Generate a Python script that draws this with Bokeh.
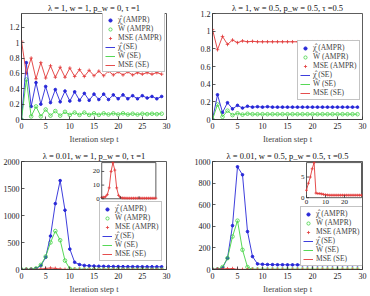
import math
from bokeh.plotting import figure
from bokeh.models import (Range1d, FixedTicker, CustomJSTickFormatter, Legend,
                          LegendItem, GridBox)
from bokeh.core.properties import value
from bokeh.embed import file_html
from bokeh.resources import INLINE

steps = list(range(30))
x_ticks = [0, 5, 10, 15, 20, 25, 30]
inset_x_ticks = [0, 10, 20]

# Panel (a): lambda=1, w=1, pw=0, tau=1
a_title = "λ = 1, w = 1, p_w = 0, τ =1"
a_chi = [0.00, 0.74, 0.17, 0.48, 0.20, 0.43, 0.22, 0.39, 0.23, 0.37, 0.24, 0.36, 0.25, 0.34, 0.25,
         0.33, 0.26, 0.33, 0.26, 0.32, 0.27, 0.32, 0.27, 0.31, 0.27, 0.31, 0.28, 0.30, 0.27, 0.30]
a_w = [0.00, 0.52, 0.04, 0.17, 0.04, 0.13, 0.05, 0.11, 0.05, 0.10, 0.06, 0.09, 0.06, 0.09, 0.06,
       0.08, 0.06, 0.08, 0.065, 0.08, 0.065, 0.08, 0.065, 0.075, 0.065, 0.075, 0.07, 0.075, 0.07, 0.075]
a_mse = [1.02, 0.60, 0.80, 0.53, 0.74, 0.54, 0.70, 0.55, 0.68, 0.55, 0.67, 0.56, 0.65, 0.56, 0.64,
         0.57, 0.63, 0.57, 0.63, 0.58, 0.62, 0.58, 0.62, 0.58, 0.61, 0.59, 0.61, 0.59, 0.61, 0.59]
a_yticks = [0, 0.2, 0.4, 0.6, 0.8, 1.0, 1.2]

# Panel (b): lambda=1, w=0.5, pw=0.5, tau=0.5
b_title = "λ = 1, w = 0.5, p_w = 0.5, τ =0.5"
b_chi = [0.00, 0.28, 0.08, 0.19, 0.12, 0.16, 0.13, 0.15, 0.14, 0.145, 0.14, 0.145, 0.14, 0.14, 0.14,
         0.14, 0.14, 0.14, 0.14, 0.14, 0.14, 0.14, 0.14, 0.14, 0.14, 0.14, 0.14, 0.14, 0.14, 0.14]
b_w = [0.00, 0.17, 0.03, 0.10, 0.05, 0.07, 0.055, 0.065, 0.06, 0.06, 0.06, 0.06, 0.06, 0.06, 0.06,
       0.06, 0.06, 0.06, 0.06, 0.06, 0.06, 0.06, 0.06, 0.06, 0.06, 0.06, 0.06, 0.06, 0.06, 0.06]
b_mse = [1.02, 0.79, 0.94, 0.85, 0.90, 0.87, 0.89, 0.88, 0.885, 0.88, 0.88, 0.88, 0.88, 0.88, 0.88,
         0.88, 0.88, 0.88, 0.88, 0.88, 0.88, 0.88, 0.88, 0.88, 0.88, 0.88, 0.88, 0.88, 0.88, 0.88]
b_yticks = [0, 0.2, 0.4, 0.6, 0.8, 1.0, 1.2]

# Panel (c): lambda=0.01, w=1, pw=0, tau=1
c_title = "λ = 0.01, w = 1, p_w = 0, τ =1"
c_chi = [0, 0, 2, 15, 70, 225, 620, 1220, 1646, 1098, 378, 134, 91, 75, 68,
         63, 60, 58, 56, 55, 54, 53, 52, 52, 51, 51, 50, 50, 50, 50]
c_w = [0, 0, 2, 20, 85, 240, 500, 713, 543, 165, 12, 0, 0, 0, 0,
       0, 0, 0, 0, 0, 0, 0, 0, 0, 0, 0, 0, 0, 0, 0]
c_mse = [1.0, 1.1, 1.5, 3.0, 8.0, 20.0, 26.5, 21.0, 8.0, 2.5, 1.0, 0.6, 0.5, 0.45, 0.4,
         0.4, 0.4, 0.4, 0.4, 0.4, 0.4, 0.4, 0.4, 0.4, 0.4, 0.4, 0.4, 0.4, 0.4, 0.4]
c_yticks = [0, 500, 1000, 1500, 2000]
c_inset_yticks = [0, 10, 20]

# Panel (d): lambda=0.01, w=0.5, pw=0.5, tau=0.5
d_title = "λ = 0.01, w = 0.5, p_w = 0.5, τ =0.5"
d_chi = [0, 3, 15, 105, 406, 951, 877, 351, 120, 52, 48, 46, 45, 44, 44,
         43, 43, 43, 43, 43, 43, 43, 43, 43, 43, 43, 43, 43, 43, 43]
d_w = [0, 1, 22, 105, 305, 452, 182, 22, 0, 0, 0, 0, 0, 0, 0,
       0, 0, 0, 0, 0, 0, 0, 0, 0, 0, 0, 0, 0, 0, 0]
d_mse = [1.8, 3.5, 5.0, 7.0, 8.5, 1.1, 1.0, 1.0, 0.9, 0.8, 0.7, 0.65, 0.6, 0.6, 0.6,
         0.6, 0.6, 0.6, 0.6, 0.6, 0.6, 0.6, 0.6, 0.6, 0.6, 0.6, 0.6, 0.6, 0.6, 0.6]
d_yticks = [0, 200, 400, 600, 800, 1000]
d_inset_yticks = [0, 5]

legend_labels = ["χ̂ (AMPR)", "Ŵ (AMPR)", "MSE (AMPR)", "χ̂ (SE)", "Ŵ (SE)", "MSE (SE)"]

FONT = "Liberation Serif"
BLUE = "#2828d8"
GREEN = "#44d444"
RED = "#e23a3a"
AX = "#333333"

fmt_code = "return String(Math.round(tick * 1000) / 1000);"


def style_axes(p, yticks, xticks, size="8px"):
    for ax in (p.xaxis[0], p.yaxis[0]):
        ax.major_tick_in = 3
        ax.major_tick_out = 0
        ax.minor_tick_line_color = None
        ax.axis_line_color = AX
        ax.axis_line_width = 0.8
        ax.major_tick_line_color = AX
        ax.major_tick_line_width = 0.8
        ax.major_label_text_font = FONT
        ax.major_label_text_font_size = size
        ax.major_label_text_color = "#222222"
        ax.major_label_standoff = 2
    p.xaxis[0].ticker = FixedTicker(ticks=xticks)
    p.yaxis[0].ticker = FixedTicker(ticks=yticks)
    p.yaxis[0].formatter = CustomJSTickFormatter(code=fmt_code)
    p.xgrid.visible = False
    p.ygrid.visible = False
    p.outline_line_color = AX
    p.outline_line_width = 0.8


def main_panel(title, chi, w, mse, y_end, yticks, borders, leg_loc):
    p = figure(width=185, height=148, output_backend="svg", toolbar_location=None,
               x_range=Range1d(0, 30), y_range=Range1d(0, y_end),
               min_border_left=borders[0], min_border_right=borders[1],
               min_border_top=borders[2], min_border_bottom=borders[3])
    style_axes(p, yticks, x_ticks)
    p.xaxis[0].axis_label = "Iteration step t"
    p.xaxis[0].axis_label_text_font = FONT
    p.xaxis[0].axis_label_text_font_size = "8.5px"
    p.xaxis[0].axis_label_text_font_style = "normal"
    p.xaxis[0].axis_label_standoff = 2
    p.xaxis[0].major_label_standoff = 3

    p.title.text = title
    p.title.align = "center"
    p.title.text_font = FONT
    p.title.text_font_size = "8.5px"
    p.title.text_font_style = "normal"
    p.title.text_color = "#111111"
    p.title.standoff = 1

    r1 = p.scatter(steps, chi, marker="circle", size=2.6, fill_color=BLUE, line_color=BLUE)
    r2 = p.scatter(steps, w, marker="circle", size=3.6, fill_color=None, line_color=GREEN, line_width=0.8)
    r3 = p.scatter(steps, mse, marker="cross", size=3.6, line_color=RED, line_width=0.8)
    l1 = p.line(steps, chi, line_color=BLUE, line_width=0.9)
    l2 = p.line(steps, w, line_color=GREEN, line_width=0.9)
    l3 = p.line(steps, mse, line_color=RED, line_width=0.9)

    items = [LegendItem(label=lab, renderers=[r]) for lab, r in zip(legend_labels, [r1, r2, r3, l1, l2, l3])]
    leg = Legend(items=items, location=leg_loc)
    leg.label_text_font = FONT
    leg.label_text_font_size = "7.5px"
    leg.label_height = 8
    leg.glyph_height = 8
    leg.glyph_width = 10
    leg.label_standoff = 3
    leg.spacing = 0
    leg.padding = 2
    leg.margin = 0
    leg.border_line_color = "#888888"
    leg.border_line_width = 0.8
    leg.background_fill_alpha = 1.0
    p.add_layout(leg)
    return p


def add_inset(p, mse, yticks, box):
    # box: inset position (x0, x1, y0, y1) in the parent's data units
    x0, x1, y0, y1 = box
    p.quad(left=[x0], right=[x1], bottom=[y0], top=[y1], fill_color="white",
           line_color=AX, line_width=0.8)
    xy = p.subplot(x_source=Range1d(0, 29), y_source=Range1d(0, max(mse)),
                   x_target=Range1d(x0, x1), y_target=Range1d(y0, y1))
    xy.scatter(steps, mse, marker="cross", size=3, line_color=RED, line_width=0.8)
    xy.line(steps, mse, line_color=RED, line_width=0.9)
    xy.ray(x=inset_x_ticks, y=[0] * len(inset_x_ticks), length=2.5, angle=math.pi / 2,
           length_units="screen", line_color=AX, line_width=0.8)
    xy.ray(x=[0] * len(yticks), y=yticks, length=2.5, angle=0,
           length_units="screen", line_color=AX, line_width=0.8)
    xy.text(x=inset_x_ticks, y=[0] * len(inset_x_ticks), text=[str(t) for t in inset_x_ticks],
            text_align="center", text_baseline="top", y_offset=2,
            text_font=value(FONT), text_font_size="7px", text_color="#222222")
    xy.text(x=[0] * len(yticks), y=yticks, text=[str(t) for t in yticks],
            text_align="right", text_baseline="middle", x_offset=-2,
            text_font=value(FONT), text_font_size="7px", text_color="#222222")


pa = main_panel(a_title, a_chi, a_w, a_mse, 1.38, a_yticks, (14, 19, 9, 29), (81, 47))
pb = main_panel(b_title, b_chi, b_w, b_mse, 1.2, b_yticks, (27, 8, 10, 29), (85, 19))
pc = main_panel(c_title, c_chi, c_w, c_mse, 2000, c_yticks, (20, 19, 12, 27), (78, 8))
pd = main_panel(d_title, d_chi, d_w, d_mse, 1000, d_yticks, (22, 8, 12, 27), (88, 3))

add_inset(pc, c_mse, c_inset_yticks, (16.6, 27.8, 1310, 1980))
add_inset(pd, d_mse, d_inset_yticks, (18.8, 29.8, 665, 990))

grid = GridBox(children=[(pa, 0, 0), (pb, 0, 1), (pc, 1, 0), (pd, 1, 1)], spacing=0)

open("out.html", "w").write(file_html(grid, INLINE))
